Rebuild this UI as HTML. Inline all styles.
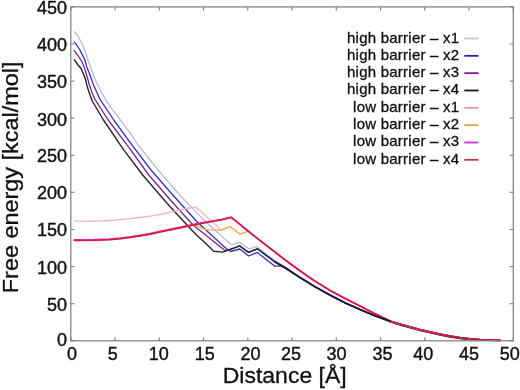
<!DOCTYPE html>
<html><head><meta charset="utf-8"><style>
html,body{margin:0;padding:0;background:#fff;width:520px;height:390px;overflow:hidden}
svg{display:block;will-change:transform}
</style></head><body>
<svg width="520" height="390" viewBox="0 0 520 390">
<rect width="520" height="390" fill="#fff"/>
<g fill="none" stroke-linejoin="round" stroke-linecap="round">
<path d="M74.7,31.8 L78.5,37.2 L82.0,43.4 L84.3,48.8 L87.2,57.7 L89.5,64.2 L91.8,70.8 L94.9,79.2 L98.2,85.7 L102.0,93.4 L106.6,101.1 L110.5,107.2 L120.4,120.0 L130.0,132.7 L138.1,145.0 L158.1,170.0 L179.7,195.0 L202.0,218.1 L215.3,230.5 L231.7,244.9 L239.8,242.4 L249.1,249.0 L256.5,246.6 L274.7,260.6 L285.0,266.6 L300.0,277.5 L315.0,286.7 L330.0,295.1 L345.0,302.8 L360.0,309.5 L375.0,315.8 L390.0,321.0 L400.0,324.0 L410.0,326.8 L420.0,329.5 L430.0,331.9 L440.0,334.1 L450.0,336.0 L460.0,337.6 L470.0,338.9 L480.0,339.7 L490.0,340.2 L500.0,340.4" stroke="#b4bcdc" stroke-width="1.3"/>
<path d="M74.3,42.2 L76.6,44.9 L79.7,49.5 L82.6,55.4 L84.9,60.0 L86.8,66.9 L89.5,73.8 L91.5,79.2 L93.5,84.9 L96.6,91.8 L99.7,98.8 L113.8,120.0 L130.0,142.3 L151.0,170.0 L172.8,195.0 L197.5,222.2 L225.0,247.4 L230.6,251.5 L239.8,249.0 L248.6,256.0 L257.3,252.4 L274.5,266.0 L281.5,266.2 L285.0,267.6 L300.0,277.5 L315.0,286.7 L330.0,295.1 L345.0,302.8 L360.0,309.5 L375.0,315.8 L390.0,321.0 L400.0,324.0 L410.0,326.8 L420.0,329.5 L430.0,331.9 L440.0,334.1 L450.0,336.0 L460.0,337.6 L470.0,338.9 L480.0,339.7 L490.0,340.2 L500.0,340.4" stroke="#3030cc" stroke-width="1.3"/>
<path d="M74.3,50.7 L77.4,54.9 L79.3,57.6 L81.8,61.5 L84.2,66.9 L86.1,73.1 L87.4,78.0 L89.7,85.7 L92.0,92.6 L94.7,98.8 L108.2,120.0 L129.0,147.7 L148.8,175.0 L170.4,200.0 L193.0,225.0 L225.0,250.5 L228.6,250.0 L239.7,245.9 L248.6,252.4 L257.3,248.8 L274.7,261.7 L285.0,267.8 L300.0,277.5 L315.0,286.7 L330.0,295.1 L345.0,302.8 L360.0,309.5 L375.0,315.8 L390.0,321.0 L400.0,324.0 L410.0,326.8 L420.0,329.5 L430.0,331.9 L440.0,334.1 L450.0,336.0 L460.0,337.6 L470.0,338.9 L480.0,339.7 L490.0,340.2 L500.0,340.4" stroke="#7e2284" stroke-width="1.3"/>
<path d="M74.4,59.9 L78.0,65.0 L81.1,68.5 L82.8,72.5 L85.1,78.0 L87.0,85.7 L88.9,91.8 L90.8,97.2 L92.2,101.0 L103.5,120.0 L123.5,149.6 L142.7,175.0 L164.2,200.0 L172.0,208.8 L187.0,225.0 L196.5,235.0 L205.0,242.8 L213.8,251.3 L222.4,252.1 L228.6,250.0 L239.7,245.9 L248.6,252.4 L257.3,248.8 L274.7,261.7 L285.0,267.8 L300.0,277.5 L315.0,286.7 L330.0,295.1 L345.0,302.8 L360.0,309.5 L375.0,315.8 L390.0,321.8 L400.0,325.0 L410.0,327.8 L420.0,330.5 L430.0,332.9 L440.0,335.1 L450.0,337.0 L460.0,338.6 L470.0,339.7 L480.0,340.2 L490.0,340.4 L500.0,340.4" stroke="#262626" stroke-width="1.4"/>
<path d="M74.5,221.2 L95.0,221.1 L110.0,220.5 L120.0,219.7 L130.0,218.6 L140.0,217.5 L150.0,216.2 L160.0,214.5 L170.0,212.2 L180.0,209.8 L190.0,208.0 L195.6,207.2 L202.3,212.6 L207.4,217.4 L215.0,224.0 L221.2,230.2 L230.0,226.6 L240.2,234.2 L245.8,232.2 L247.5,230.9 L252.0,234.2 L270.0,248.2 L285.0,259.8 L300.0,270.8 L315.0,281.1 L330.0,290.4 L345.0,298.4 L360.0,306.0 L375.0,313.8 L390.0,321.0 L400.0,324.0 L410.0,326.8 L420.0,329.5 L430.0,331.9 L440.0,334.1 L450.0,336.0 L460.0,337.6 L470.0,338.9 L480.0,339.7 L490.0,340.2 L500.0,340.4" stroke="#f2b4bc" stroke-width="1.3"/>
<path d="M74.5,240.5 L95.0,240.3 L110.0,239.6 L120.0,238.8 L130.0,237.5 L140.0,235.9 L150.0,234.2 L160.0,232.0 L170.0,230.0 L180.0,227.9 L190.0,225.8 L195.0,225.0 L205.8,229.6 L221.2,230.2 L230.0,226.6 L240.2,234.2 L245.8,232.2 L247.5,230.9 L252.0,234.2 L270.0,248.2 L285.0,259.8 L300.0,270.8 L315.0,281.1 L330.0,290.4 L345.0,298.4 L360.0,306.0 L375.0,313.8 L390.0,321.0 L400.0,324.0 L410.0,326.8 L420.0,329.5 L430.0,331.9 L440.0,334.1 L450.0,336.0 L460.0,337.6 L470.0,338.9 L480.0,339.7 L490.0,340.2 L500.0,340.4" stroke="#eab252" stroke-width="1.4"/>
<path d="M74.5,239.9 L95.0,239.7 L110.0,239.0 L120.0,238.2 L130.0,236.9 L140.0,235.3 L150.0,233.6 L160.0,231.4 L170.0,229.4 L180.0,227.3 L190.0,225.2 L200.0,223.2 L212.0,221.2 L222.0,219.5 L231.3,217.3 L252.0,234.2 L270.0,248.2 L285.0,259.8 L300.0,270.8 L315.0,281.1 L330.0,290.4 L345.0,298.4 L360.0,306.0 L375.0,313.8 L390.0,321.0 L400.0,324.0 L410.0,326.8 L420.0,329.5 L430.0,331.9 L440.0,334.1 L450.0,336.0 L460.0,337.6 L470.0,338.9 L480.0,339.7 L490.0,340.2 L500.0,340.4" stroke="#d830c0" stroke-width="1.7"/>
<path d="M74.5,240.5 L95.0,240.3 L110.0,239.6 L120.0,238.8 L130.0,237.5 L140.0,235.9 L150.0,234.2 L160.0,232.0 L170.0,230.0 L180.0,227.9 L190.0,225.8 L200.0,223.8 L212.0,221.5 L222.0,219.6 L231.3,217.3 L252.0,234.2 L270.0,248.2 L285.0,259.8 L300.0,270.8 L315.0,281.1 L330.0,290.4 L345.0,298.4 L360.0,306.0 L375.0,313.8 L390.0,321.0 L400.0,324.0 L410.0,326.8 L420.0,329.5 L430.0,331.9 L440.0,334.1 L450.0,336.0 L460.0,337.6 L470.0,338.9 L480.0,339.7 L490.0,340.2 L500.0,340.4" stroke="#d81a44" stroke-width="1.6"/>
<path d="M274.7,261.7 L285.0,267.8 L300.0,277.5 L315.0,286.7 L330.0,295.1 L345.0,302.8 L360.0,309.5 L375.0,315.8 L390.0,321.0" stroke="#1c1a40" stroke-width="1.7"/>
<path d="M440.0,334.4 L450.0,336.3 L460.0,337.9 L470.0,338.9 L480.0,339.7 L490.0,340.2 L500.0,340.4" stroke="#b4223e" stroke-width="1.8"/>
</g>
<rect x="70.8" y="6.9" width="442.5" height="333.9" fill="none" stroke="#858585" stroke-width="1.3"/>
<path d="M70.80,340.8 v-3.5 M70.80,6.9 v3.5 M115.05,340.8 v-3.5 M115.05,6.9 v3.5 M159.30,340.8 v-3.5 M159.30,6.9 v3.5 M203.55,340.8 v-3.5 M203.55,6.9 v3.5 M247.80,340.8 v-3.5 M247.80,6.9 v3.5 M292.05,340.8 v-3.5 M292.05,6.9 v3.5 M336.30,340.8 v-3.5 M336.30,6.9 v3.5 M380.55,340.8 v-3.5 M380.55,6.9 v3.5 M424.80,340.8 v-3.5 M424.80,6.9 v3.5 M469.05,340.8 v-3.5 M469.05,6.9 v3.5 M513.30,340.8 v-3.5 M513.30,6.9 v3.5 M70.8,340.80 h3.5 M513.3,340.80 h-3.5 M70.8,303.70 h3.5 M513.3,303.70 h-3.5 M70.8,266.60 h3.5 M513.3,266.60 h-3.5 M70.8,229.50 h3.5 M513.3,229.50 h-3.5 M70.8,192.40 h3.5 M513.3,192.40 h-3.5 M70.8,155.30 h3.5 M513.3,155.30 h-3.5 M70.8,118.20 h3.5 M513.3,118.20 h-3.5 M70.8,81.10 h3.5 M513.3,81.10 h-3.5 M70.8,44.00 h3.5 M513.3,44.00 h-3.5 M70.8,6.90 h3.5 M513.3,6.90 h-3.5" stroke="#858585" stroke-width="1.2" fill="none"/>
<g font-family="Liberation Sans, sans-serif" font-size="18" fill="#111" stroke="#111" stroke-width="0.4">
<text x="72.10" y="359.9" text-anchor="middle">0</text>
<text x="112.70" y="359.9" text-anchor="middle">5</text>
<text x="158.85" y="359.9" text-anchor="middle">10</text>
<text x="204.80" y="359.9" text-anchor="middle">15</text>
<text x="250.50" y="359.9" text-anchor="middle">20</text>
<text x="290.90" y="359.9" text-anchor="middle">25</text>
<text x="336.50" y="359.9" text-anchor="middle">30</text>
<text x="382.50" y="359.9" text-anchor="middle">35</text>
<text x="423.20" y="359.9" text-anchor="middle">40</text>
<text x="468.90" y="359.9" text-anchor="middle">45</text>
<text x="509.70" y="359.9" text-anchor="middle">50</text>
<text x="67" y="345.75" text-anchor="end">0</text>
<text x="67" y="310.75" text-anchor="end">50</text>
<text x="67" y="274.35" text-anchor="end">100</text>
<text x="67" y="236.25" text-anchor="end">150</text>
<text x="67" y="199.00" text-anchor="end">200</text>
<text x="67" y="162.35" text-anchor="end">250</text>
<text x="67" y="125.85" text-anchor="end">300</text>
<text x="67" y="88.15" text-anchor="end">350</text>
<text x="67" y="50.55" text-anchor="end">400</text>
<text x="67" y="13.95" text-anchor="end">450</text>
</g>
<g font-family="Liberation Sans, sans-serif" font-size="23" fill="#111" stroke="#111" stroke-width="0.3">
<text transform="translate(284.7,383.3) scale(1.07,1)" text-anchor="middle" font-size="21.5">Distance [Å]</text>
<text transform="translate(18.3,177.4) rotate(-90) scale(1.07,1)" text-anchor="middle" font-size="21.9">Free energy [kcal/mol]</text>
</g>
<g font-family="Liberation Sans, sans-serif" font-size="14.3" letter-spacing="0.22" fill="#111" stroke="#111" stroke-width="0.3">
<text transform="translate(459.4,42.50) scale(1.05,1)" text-anchor="end">high barrier – x1</text>
<line x1="464.3" x2="478.5" y1="38.50" y2="38.50" stroke="#c4c6ee" stroke-width="1.8"/>
<text transform="translate(459.4,59.83) scale(1.05,1)" text-anchor="end">high barrier – x2</text>
<line x1="464.3" x2="478.5" y1="55.83" y2="55.83" stroke="#2020c0" stroke-width="1.8"/>
<text transform="translate(459.4,77.16) scale(1.05,1)" text-anchor="end">high barrier – x3</text>
<line x1="464.3" x2="478.5" y1="73.16" y2="73.16" stroke="#8a14a0" stroke-width="1.8"/>
<text transform="translate(459.4,94.49) scale(1.05,1)" text-anchor="end">high barrier – x4</text>
<line x1="464.3" x2="478.5" y1="90.49" y2="90.49" stroke="#1a1a1a" stroke-width="1.8"/>
<text transform="translate(459.4,111.82) scale(1.05,1)" text-anchor="end">low barrier – x1</text>
<line x1="464.3" x2="478.5" y1="107.82" y2="107.82" stroke="#e894a4" stroke-width="1.8"/>
<text transform="translate(459.4,129.15) scale(1.05,1)" text-anchor="end">low barrier – x2</text>
<line x1="464.3" x2="478.5" y1="125.15" y2="125.15" stroke="#e0a040" stroke-width="1.8"/>
<text transform="translate(459.4,146.48) scale(1.05,1)" text-anchor="end">low barrier – x3</text>
<line x1="464.3" x2="478.5" y1="142.48" y2="142.48" stroke="#d428e4" stroke-width="1.8"/>
<text transform="translate(459.4,163.81) scale(1.05,1)" text-anchor="end">low barrier – x4</text>
<line x1="464.3" x2="478.5" y1="159.81" y2="159.81" stroke="#c03848" stroke-width="1.8"/>
</g>
</svg>
</body></html>
